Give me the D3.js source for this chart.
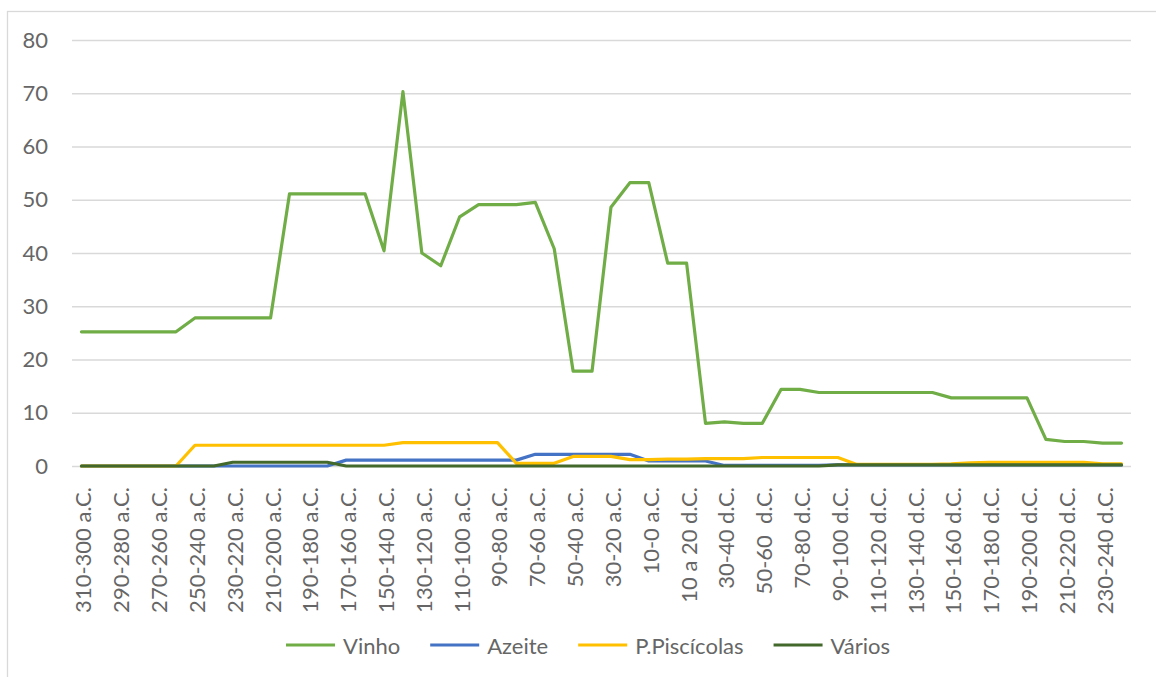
<!DOCTYPE html>
<html>
<head>
<meta charset="utf-8">
<script src="https://cdn.jsdelivr.net/npm/d3@7"></script>
<style>
  body { margin: 0; background: #fff; }
  text { font-family: Lato, "Liberation Sans", sans-serif; fill: #666; white-space: pre; }
</style>
</head>
<body>
<div id="chart"></div>
<script>
// categories (10-year periods)
var periods = ["310-300 a.C.", "300-290 a.C.", "290-280 a.C.", "280-270 a.C.", "270-260 a.C.", "260-250 a.C.",
    "250-240 a.C.", "240-230 a.C.", "230-220 a.C.", "220-210 a.C.", "210-200 a.C.", "200-190 a.C.",
    "190-180 a.C.", "180-170 a.C.", "170-160 a.C.", "160-150 a.C.", "150-140 a.C.", "140-130 a.C.",
    "130-120 a.C.", "120-110 a.C.", "110-100 a.C.", "100-90 a.C.", "90-80 a.C.", "80-70 a.C.",
    "70-60 a.C.", "60-50 a.C.", "50-40 a.C.", "40-30 a.C.", "30-20 a.C.", "20-10 a.C.", "10-0 a.C.",
    "0 a 10 d.C.", "10 a 20 d.C.", "20-30 d.C.", "30-40 d.C.", "40-50 d.C.", "50-60  d.C.",
    "60-70 d.C.", "70-80 d.C.", "80-90 d.C.", "90-100 d.C.", "100-110 d.C.", "110-120 d.C.",
    "120-130 d.C.", "130-140 d.C.", "140-150 d.C.", "150-160 d.C.", "160-170 d.C.", "170-180 d.C.",
    "180-190 d.C.", "190-200 d.C.", "200-210 d.C.", "210-220 d.C.", "220-230 d.C.", "230-240 d.C.",
    "240-250 d.C."];

var vinho = [25.2, 25.2, 25.2, 25.2, 25.2, 25.2, 27.8, 27.8, 27.8, 27.8, 27.8, 51.1, 51.1, 51.1, 51.1, 51.1,
    40.4, 70.3, 40.0, 37.6, 46.8, 49.1, 49.1, 49.1, 49.5, 40.8, 17.8, 17.8, 48.6, 53.2, 53.2, 38.1, 38.1,
    8.0, 8.3, 8.0, 8.0, 14.4, 14.4, 13.8, 13.8, 13.8, 13.8, 13.8, 13.8, 13.8, 12.8, 12.8, 12.8, 12.8, 12.8,
    5.0, 4.6, 4.6, 4.3, 4.3];

var azeite = [0, 0, 0, 0, 0, 0, 0, 0, 0, 0, 0, 0, 0, 0, 1.1, 1.1, 1.1, 1.1, 1.1, 1.1, 1.1, 1.1, 1.1, 1.1,
    2.2, 2.2, 2.2, 2.2, 2.2, 2.2, 0.95, 0.95, 0.95, 0.95, 0.1, 0.1, 0.1, 0.1, 0.1, 0.1,
    0.2, 0.2, 0.2, 0.2, 0.2, 0.2, 0.2, 0.2, 0.2, 0.2, 0.2, 0.2, 0.2, 0.2, 0.2, 0.2];

var piscicolas = [0, 0, 0, 0, 0, 0, 3.9, 3.9, 3.9, 3.9, 3.9, 3.9, 3.9, 3.9, 3.9, 3.9, 3.9,
    4.4, 4.4, 4.4, 4.4, 4.4, 4.4, 0.5, 0.5, 0.5, 1.8, 1.8, 1.8, 1.2, 1.2, 1.3, 1.3, 1.4, 1.4, 1.4,
    1.6, 1.6, 1.6, 1.6, 1.6, 0.3, 0.3, 0.3, 0.3, 0.3, 0.4, 0.6, 0.7, 0.7, 0.7, 0.7, 0.7, 0.7, 0.4, 0.4];

var varios = [0, 0, 0, 0, 0, 0, 0, 0, 0.7, 0.7, 0.7, 0.7, 0.7, 0.7, 0, 0, 0, 0, 0, 0, 0, 0, 0, 0, 0, 0,
    0, 0, 0, 0, 0, 0, 0, 0, 0, 0, 0, 0, 0, 0, 0.2, 0.2, 0.2, 0.2, 0.2, 0.2, 0.2, 0.2, 0.2, 0.2, 0.2, 0.2,
    0.2, 0.2, 0.2, 0.2];

var yTicks = [0, 10, 20, 30, 40, 50, 60, 70, 80];

var series = [
    { name: "Vinho", values: vinho, color: "#70ad47" },
    { name: "Azeite", values: azeite, color: "#4472c4" },
    { name: "P.Piscícolas", values: piscicolas, color: "#ffc000" },
    { name: "Vários", values: varios, color: "#43682b" }
];

var W = 1156, H = 677;
var plot = { left: 72, right: 1131, top: 40, bottom: 466 };
var fontSize = 22;

var svg = d3.select("#chart").append("svg")
    .attr("width", W)
    .attr("height", H);

// chart area border
svg.append("rect")
    .attr("x", 7.5).attr("y", 11.5)
    .attr("width", 1300).attr("height", 800)
    .attr("fill", "#fff")
    .attr("stroke", "#d9d9d9")
    .attr("stroke-width", 1.3);

var x = d3.scalePoint()
    .domain(periods)
    .range([plot.left, plot.right])
    .padding(0.5);

var y = d3.scaleLinear()
    .domain([0, 80])
    .range([plot.bottom, plot.top]);

// y axis with gridlines
var yAxis = svg.append("g")
    .attr("transform", "translate(" + plot.left + ",0)")
    .call(d3.axisLeft(y).tickValues(yTicks)
        .tickSize(-(plot.right - plot.left))
        .tickPadding(24));
yAxis.select(".domain").remove();
yAxis.selectAll(".tick line").attr("stroke", "#d9d9d9").attr("stroke-width", 1.3);
yAxis.selectAll(".tick text")
    .attr("font-size", fontSize)
    .style("font-family", "Lato, sans-serif")
    .attr("fill", "#666");

// x axis labels (every other period)
var xAxis = svg.append("g")
    .attr("transform", "translate(0," + plot.bottom + ")")
    .call(d3.axisBottom(x)
        .tickValues(periods.filter(function (d, i) { return i % 2 === 0; }))
        .tickSize(0));
xAxis.select(".domain").remove();
xAxis.selectAll(".tick text")
    .attr("font-size", fontSize)
    .style("font-family", "Lato, sans-serif")
    .attr("fill", "#666")
    .attr("text-anchor", "end")
    .attr("dominant-baseline", "central")
    .attr("x", 0)
    .attr("y", 0)
    .attr("dy", null)
    .attr("transform", "translate(1,21) rotate(-90)");

// lines
var line = d3.line()
    .x(function (d, i) { return x(periods[i]); })
    .y(function (d) { return y(d); });

svg.append("g").selectAll("path")
    .data(series)
    .enter()
    .append("path")
    .attr("d", function (s) { return line(s.values); })
    .attr("fill", "none")
    .attr("stroke", function (s) { return s.color; })
    .attr("stroke-width", 3.2)
    .attr("stroke-linejoin", "round")
    .attr("stroke-linecap", "round");

// legend
var legend = svg.append("g");
var lx = 286, ly = 645;
series.forEach(function (s) {
    legend.append("line")
        .attr("x1", lx).attr("x2", lx + 49)
        .attr("y1", ly).attr("y2", ly)
        .attr("stroke", s.color)
        .attr("stroke-width", 3.2);
    var t = legend.append("text")
        .attr("x", lx + 57)
        .attr("y", ly)
        .attr("dominant-baseline", "central")
        .attr("font-size", fontSize)
        .text(s.name);
    lx = lx + 57 + t.node().getComputedTextLength() + 30;
});
</script>
</body>
</html>
